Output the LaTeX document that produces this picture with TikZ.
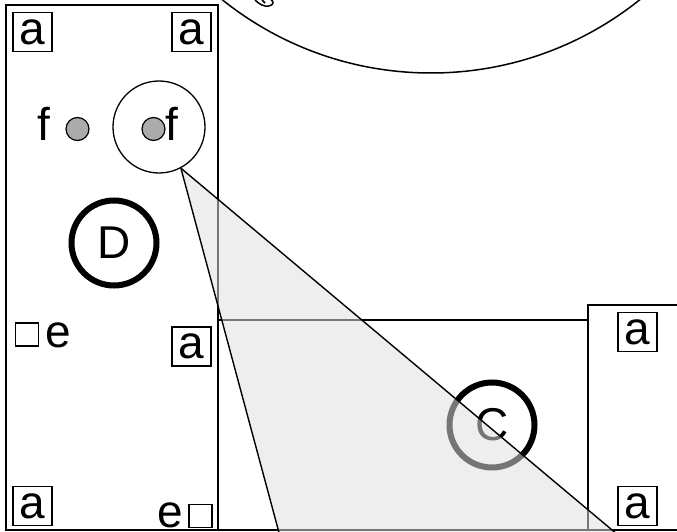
\documentclass[tikz,border=0pt]{standalone}
\usepackage{fontspec}
\setmainfont{Liberation Sans}
\begin{document}
\begin{tikzpicture}[x=1pt,y=-1pt,
  every node/.style={font=\fontsize{46}{50}\selectfont, inner sep=0pt},
  panel/.style={draw, line width=1.5pt, rectangle},
  abox/.style={draw, line width=1.3pt, minimum width=39pt, minimum height=39pt},
  sq/.style={draw, line width=1.2pt, minimum width=23pt, minimum height=23pt},
  dot/.style={draw, circle, line width=1.2pt, fill=black!33, minimum size=23pt},
  ring/.style={draw, circle, line width=6pt, minimum size=85pt},
  lens/.style={draw, circle, line width=1.3pt, minimum size=92pt},
  conefill/.style={fill=black!13, fill opacity=0.53},
  coneline/.style={draw, line width=1.4pt}]
\useasboundingbox (0,0) rectangle (677,532);
\begin{scope}
\clip (0,0) rectangle (677,532);
% panels
\node[panel, minimum width=212pt, minimum height=525pt] (L) at (112,267.5) {};
\node[panel, minimum width=370pt, minimum height=210pt] (M) at (403,425) {};
\node[panel, minimum width=120pt, minimum height=225pt] (R) at (648,417.5) {};
% a boxes
\node[abox] (a1) at (32.5,32) {a};
\node[abox] (a2) at (191.5,32) {a};
\node[abox] (a3) at (191.5,346.5) {a};
\node[abox] (a4) at (32.5,506) {a};
\node[abox] (a5) at (637.5,332) {a};
\node[abox] (a6) at (637.5,506) {a};
% f row
\node[anchor=base] (f1) at (44,141) {f};
\node[dot] (d1) at (77.5,129) {};
\node[dot] (d2) at (153.5,129) {};
\node[anchor=base] (f2) at (172,141) {f};
\node[lens] (sc) at (159,127) {};
% D and C rings
\node[ring] (D) at (114,243) {D};
\node[ring] (C) at (492,425) {C};
% e markers
\node[sq] (s1) at (27,334.5) {};
\node[anchor=base] (e1) at (58,347) {e};
\node[anchor=base] (e2) at (170,527) {e};
\node[sq] (s2) at (200.5,516) {};
% cone
\coordinate (apex) at (sc.-62);
\coordinate (cl) at (281,540);
\coordinate (cr) at (624,540);
\fill[conefill] (apex) -- (cl) -- (cr) -- cycle;
\draw[coneline] (apex) -- (cl);
\draw[coneline] (apex) -- (cr);
% magnified view
\node[draw, circle, fill=white, line width=1.5pt, minimum size=668pt] (big) at (431,-261) {};
\draw[line width=1.5pt] (255,0) .. controls (259,4) and (264,7) .. (269,6)
  .. controls (274,5) and (274,1) .. (271,0);
\draw[line width=1.5pt] (262,0) -- (265,3);
\end{scope}
\end{tikzpicture}
\end{document}
